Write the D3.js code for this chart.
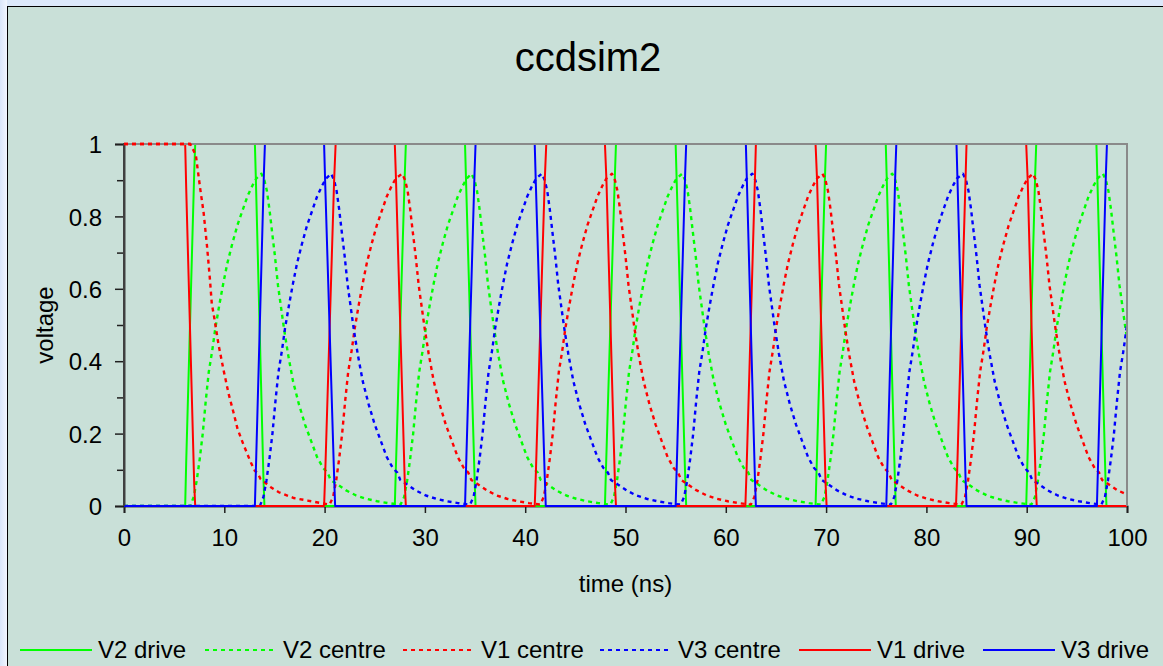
<!DOCTYPE html>
<html>
<head>
<meta charset="utf-8">
<script src="https://cdn.jsdelivr.net/npm/d3@7"></script>
<style>
  html, body { margin: 0; padding: 0; background: #dfeafb; }
  svg { display: block; }
  text { font-family: "Liberation Sans", Arial, sans-serif; fill: #000; }
</style>
</head>
<body>
<svg id="chart" width="1163" height="666"></svg>
<script>
// ---------------- DATA ----------------
const chartTitle = "ccdsim2";
const xLabel = "time (ns)";
const yLabel = "voltage";
const timeTicks = [0, 10, 20, 30, 40, 50, 60, 70, 80, 90, 100];
const voltTicks = [0, 0.2, 0.4, 0.6, 0.8, 1];
const voltMinorTicks = [0.1, 0.3, 0.5, 0.7, 0.9];
const seriesNames = ["V2 drive", "V2 centre", "V1 centre", "V3 centre", "V1 drive", "V3 drive"];

// [time ns, voltage]
const v2Drive = [
  [0,0],[6.1,0],[6.2,0.12],[7.0,0.92],[7.1,1],
  [13.05,1],[13.15,0.9],[13.9,0.08],[14.0,0],
  [27.0,0],[27.1,0.1],[28.0,0.92],[28.1,1],
  [34.0,1],[34.1,0.9],[34.95,0.08],[35.05,0],
  [47.95,0],[48.05,0.1],[48.95,0.92],[49.05,1],
  [55.0,1],[55.1,0.9],[55.95,0.08],[56.05,0],
  [68.95,0],[69.05,0.1],[69.9,0.92],[70.0,1],
  [75.95,1],[76.05,0.9],[76.85,0.08],[76.95,0],
  [89.95,0],[90.05,0.1],[90.85,0.92],[90.95,1],
  [96.95,1],[97.05,0.9],[97.85,0.08],[97.95,0],
  [100,0]
];
const v1Drive = [
  [0,1],[6.1,1],[6.2,0.88],[7.0,0.06],[7.1,0],
  [19.95,0],[20.05,0.08],[20.95,0.9],[21.1,1],
  [27.0,1],[27.12,0.9],[28.0,0.06],[28.1,0],
  [40.95,0],[41.05,0.08],[41.95,0.9],[42.1,1],
  [47.95,1],[48.1,0.9],[48.95,0.06],[49.05,0],
  [61.95,0],[62.05,0.08],[62.9,0.9],[63.0,1],
  [68.95,1],[69.1,0.9],[69.95,0.06],[70.05,0],
  [82.95,0],[83.05,0.08],[83.9,0.9],[84.0,1],
  [89.95,1],[90.1,0.9],[90.9,0.06],[91.0,0],
  [100,0]
];
const v3Drive = [
  [0,0],[13.05,0],[13.15,0.1],[13.95,0.92],[14.05,1],
  [19.95,1],[20.05,0.9],[20.95,0.08],[21.05,0],
  [34.0,0],[34.1,0.1],[34.95,0.92],[35.05,1],
  [40.95,1],[41.05,0.9],[41.95,0.08],[42.05,0],
  [55.0,0],[55.1,0.1],[55.95,0.92],[56.05,1],
  [62.0,1],[62.1,0.9],[62.9,0.08],[63.0,0],
  [76.0,0],[76.1,0.1],[76.9,0.92],[77.0,1],
  [83.0,1],[83.1,0.9],[83.9,0.08],[84.0,0],
  [97.0,0],[97.1,0.1],[97.9,0.92],[98.0,1],
  [100,1]
];
const v2Centre = [
  [0,0],[6.6,0],
  [6.95,0.025],[7.25,0.07],[7.55,0.13],[7.85,0.2],[8.15,0.29],[8.45,0.37],[8.8,0.43],[9.1,0.49],[9.5,0.555],[9.9,0.615],[10.3,0.67],[10.8,0.725],[11.3,0.775],[11.8,0.815],[12.3,0.855],[12.8,0.885],[13.2,0.905],
  [13.7,0.918],
  [14.0,0.9],[14.25,0.87],[14.5,0.82],[14.75,0.76],[15.05,0.69],[15.35,0.61],[15.65,0.55],[15.95,0.49],[16.35,0.42],[16.85,0.345],[17.45,0.28],[18.05,0.225],[18.65,0.18],[19.25,0.135],[19.85,0.105],[20.3,0.092],[20.6,0.072],[21.25,0.06],[22.15,0.043],[23.15,0.029],[24.15,0.02],[25.25,0.013],[26.35,0.008],[27.45,0.004],
  [27.58,0.004],[27.93,0.025],[28.23,0.07],[28.53,0.13],[28.83,0.2],[29.13,0.29],[29.43,0.37],[29.78,0.43],[30.08,0.49],[30.48,0.555],[30.88,0.615],[31.28,0.67],[31.78,0.725],[32.28,0.775],[32.78,0.815],[33.28,0.855],[33.78,0.885],[34.18,0.905],
  [34.65,0.918],
  [34.95,0.9],[35.2,0.87],[35.45,0.82],[35.7,0.76],[36.0,0.69],[36.3,0.61],[36.6,0.55],[36.9,0.49],[37.3,0.42],[37.8,0.345],[38.4,0.28],[39.0,0.225],[39.6,0.18],[40.2,0.135],[40.8,0.105],[41.25,0.092],[41.55,0.072],[42.2,0.06],[43.1,0.043],[44.1,0.029],[45.1,0.02],[46.2,0.013],[47.3,0.008],[48.4,0.004],
  [48.5,0.004],[48.85,0.025],[49.15,0.07],[49.45,0.13],[49.75,0.2],[50.05,0.29],[50.35,0.37],[50.7,0.43],[51.0,0.49],[51.4,0.555],[51.8,0.615],[52.2,0.67],[52.7,0.725],[53.2,0.775],[53.7,0.815],[54.2,0.855],[54.7,0.885],[55.1,0.905],
  [55.65,0.918],
  [55.95,0.9],[56.2,0.87],[56.45,0.82],[56.7,0.76],[57.0,0.69],[57.3,0.61],[57.6,0.55],[57.9,0.49],[58.3,0.42],[58.8,0.345],[59.4,0.28],[60.0,0.225],[60.6,0.18],[61.2,0.135],[61.8,0.105],[62.25,0.092],[62.55,0.072],[63.2,0.06],[64.1,0.043],[65.1,0.029],[66.1,0.02],[67.2,0.013],[68.3,0.008],[69.4,0.004],
  [69.49,0.004],[69.84,0.025],[70.14,0.07],[70.44,0.13],[70.74,0.2],[71.04,0.29],[71.34,0.37],[71.69,0.43],[71.99,0.49],[72.39,0.555],[72.79,0.615],[73.19,0.67],[73.69,0.725],[74.19,0.775],[74.69,0.815],[75.19,0.855],[75.69,0.885],[76.09,0.905],
  [76.6,0.918],
  [76.9,0.9],[77.15,0.87],[77.4,0.82],[77.65,0.76],[77.95,0.69],[78.25,0.61],[78.55,0.55],[78.85,0.49],[79.25,0.42],[79.75,0.345],[80.35,0.28],[80.95,0.225],[81.55,0.18],[82.15,0.135],[82.75,0.105],[83.2,0.092],[83.5,0.072],[84.15,0.06],[85.05,0.043],[86.05,0.029],[87.05,0.02],[88.15,0.013],[89.25,0.008],[90.35,0.004],
  [90.47,0.004],[90.82,0.025],[91.12,0.07],[91.42,0.13],[91.72,0.2],[92.02,0.29],[92.32,0.37],[92.67,0.43],[92.97,0.49],[93.37,0.555],[93.77,0.615],[94.17,0.67],[94.67,0.725],[95.17,0.775],[95.67,0.815],[96.17,0.855],[96.67,0.885],[97.07,0.905],
  [97.6,0.918],
  [97.9,0.9],[98.15,0.87],[98.4,0.82],[98.65,0.76],[98.95,0.69],[99.25,0.61],[99.55,0.55],[99.85,0.49],[100,0.465]
];
const v3Centre = [
  [0,0],[13.55,0],
  [13.9,0.025],[14.2,0.07],[14.5,0.13],[14.8,0.2],[15.1,0.29],[15.4,0.37],[15.75,0.43],[16.05,0.49],[16.45,0.555],[16.85,0.615],[17.25,0.67],[17.75,0.725],[18.25,0.775],[18.75,0.815],[19.25,0.855],[19.75,0.885],[20.15,0.905],
  [20.65,0.918],
  [20.95,0.9],[21.2,0.87],[21.45,0.82],[21.7,0.76],[22.0,0.69],[22.3,0.61],[22.6,0.55],[22.9,0.49],[23.3,0.42],[23.8,0.345],[24.4,0.28],[25.0,0.225],[25.6,0.18],[26.2,0.135],[26.8,0.105],[27.25,0.092],[27.55,0.072],[28.2,0.06],[29.1,0.043],[30.1,0.029],[31.1,0.02],[32.2,0.013],[33.3,0.008],[34.4,0.004],
  [34.5,0.004],[34.85,0.025],[35.15,0.07],[35.45,0.13],[35.75,0.2],[36.05,0.29],[36.35,0.37],[36.7,0.43],[37.0,0.49],[37.4,0.555],[37.8,0.615],[38.2,0.67],[38.7,0.725],[39.2,0.775],[39.7,0.815],[40.2,0.855],[40.7,0.885],[41.1,0.905],
  [41.65,0.918],
  [41.95,0.9],[42.2,0.87],[42.45,0.82],[42.7,0.76],[43.0,0.69],[43.3,0.61],[43.6,0.55],[43.9,0.49],[44.3,0.42],[44.8,0.345],[45.4,0.28],[46.0,0.225],[46.6,0.18],[47.2,0.135],[47.8,0.105],[48.25,0.092],[48.55,0.072],[49.2,0.06],[50.1,0.043],[51.1,0.029],[52.1,0.02],[53.2,0.013],[54.3,0.008],[55.4,0.004],
  [55.5,0.004],[55.85,0.025],[56.15,0.07],[56.45,0.13],[56.75,0.2],[57.05,0.29],[57.35,0.37],[57.7,0.43],[58.0,0.49],[58.4,0.555],[58.8,0.615],[59.2,0.67],[59.7,0.725],[60.2,0.775],[60.7,0.815],[61.2,0.855],[61.7,0.885],[62.1,0.905],
  [62.65,0.918],
  [62.95,0.9],[63.2,0.87],[63.45,0.82],[63.7,0.76],[64.0,0.69],[64.3,0.61],[64.6,0.55],[64.9,0.49],[65.3,0.42],[65.8,0.345],[66.4,0.28],[67.0,0.225],[67.6,0.18],[68.2,0.135],[68.8,0.105],[69.25,0.092],[69.55,0.072],[70.2,0.06],[71.1,0.043],[72.1,0.029],[73.1,0.02],[74.2,0.013],[75.3,0.008],[76.4,0.004],
  [76.45,0.004],[76.8,0.025],[77.1,0.07],[77.4,0.13],[77.7,0.2],[78.0,0.29],[78.3,0.37],[78.65,0.43],[78.95,0.49],[79.35,0.555],[79.75,0.615],[80.15,0.67],[80.65,0.725],[81.15,0.775],[81.65,0.815],[82.15,0.855],[82.65,0.885],[83.05,0.905],
  [83.65,0.918],
  [83.95,0.9],[84.2,0.87],[84.45,0.82],[84.7,0.76],[85.0,0.69],[85.3,0.61],[85.6,0.55],[85.9,0.49],[86.3,0.42],[86.8,0.345],[87.4,0.28],[88.0,0.225],[88.6,0.18],[89.2,0.135],[89.8,0.105],[90.25,0.092],[90.55,0.072],[91.2,0.06],[92.1,0.043],[93.1,0.029],[94.1,0.02],[95.2,0.013],[96.3,0.008],[97.4,0.004],
  [97.45,0.004],[97.8,0.025],[98.1,0.07],[98.4,0.13],[98.7,0.2],[99.0,0.29],[99.3,0.37],[99.65,0.43],[99.95,0.49],[100,0.51]
];
const v1Centre = [
  [0,1],[6.6,1],[6.8,0.99],[7.17,0.968],[7.6,0.876],[7.94,0.81],[8.27,0.72],[8.57,0.625],[8.75,0.56],[9.0,0.52],[9.43,0.445],[9.93,0.375],[10.43,0.31],[10.93,0.257],[11.32,0.213],[11.92,0.169],[12.65,0.12],[13.05,0.097],[13.35,0.09],[13.6,0.075],[14.64,0.052],[15.44,0.038],[16.93,0.022],[18.3,0.015],[19.62,0.008],[20.5,0.004],
  [20.85,0.025],[21.15,0.07],[21.45,0.13],[21.75,0.2],[22.05,0.29],[22.35,0.37],[22.7,0.43],[23.0,0.49],[23.4,0.555],[23.8,0.615],[24.2,0.67],[24.7,0.725],[25.2,0.775],[25.7,0.815],[26.2,0.855],[26.7,0.885],[27.1,0.905],
  [27.73,0.918],
  [28.03,0.9],[28.28,0.87],[28.53,0.82],[28.78,0.76],[29.08,0.69],[29.38,0.61],[29.68,0.55],[29.98,0.49],[30.38,0.42],[30.88,0.345],[31.48,0.28],[32.08,0.225],[32.68,0.18],[33.28,0.135],[33.88,0.105],[34.33,0.092],[34.63,0.072],[35.28,0.06],[36.18,0.043],[37.18,0.029],[38.18,0.02],[39.28,0.013],[40.38,0.008],[41.45,0.004],
  [41.5,0.004],[41.85,0.025],[42.15,0.07],[42.45,0.13],[42.75,0.2],[43.05,0.29],[43.35,0.37],[43.7,0.43],[44.0,0.49],[44.4,0.555],[44.8,0.615],[45.2,0.67],[45.7,0.725],[46.2,0.775],[46.7,0.815],[47.2,0.855],[47.7,0.885],[48.1,0.905],
  [48.65,0.918],
  [48.95,0.9],[49.2,0.87],[49.45,0.82],[49.7,0.76],[50.0,0.69],[50.3,0.61],[50.6,0.55],[50.9,0.49],[51.3,0.42],[51.8,0.345],[52.4,0.28],[53.0,0.225],[53.6,0.18],[54.2,0.135],[54.8,0.105],[55.25,0.092],[55.55,0.072],[56.2,0.06],[57.1,0.043],[58.1,0.029],[59.1,0.02],[60.2,0.013],[61.3,0.008],[62.4,0.004],
  [62.5,0.004],[62.85,0.025],[63.15,0.07],[63.45,0.13],[63.75,0.2],[64.05,0.29],[64.35,0.37],[64.7,0.43],[65.0,0.49],[65.4,0.555],[65.8,0.615],[66.2,0.67],[66.7,0.725],[67.2,0.775],[67.7,0.815],[68.2,0.855],[68.7,0.885],[69.1,0.905],
  [69.64,0.918],
  [69.94,0.9],[70.19,0.87],[70.44,0.82],[70.69,0.76],[70.99,0.69],[71.29,0.61],[71.59,0.55],[71.89,0.49],[72.29,0.42],[72.79,0.345],[73.39,0.28],[73.99,0.225],[74.59,0.18],[75.19,0.135],[75.79,0.105],[76.24,0.092],[76.54,0.072],[77.19,0.06],[78.09,0.043],[79.09,0.029],[80.09,0.02],[81.19,0.013],[82.29,0.008],[83.39,0.004],
  [83.5,0.004],[83.85,0.025],[84.15,0.07],[84.45,0.13],[84.75,0.2],[85.05,0.29],[85.35,0.37],[85.7,0.43],[86.0,0.49],[86.4,0.555],[86.8,0.615],[87.2,0.67],[87.7,0.725],[88.2,0.775],[88.7,0.815],[89.2,0.855],[89.7,0.885],[90.1,0.905],
  [90.62,0.918],
  [90.92,0.9],[91.17,0.87],[91.42,0.82],[91.67,0.76],[91.97,0.69],[92.27,0.61],[92.57,0.55],[92.87,0.49],[93.27,0.42],[93.77,0.345],[94.37,0.28],[94.97,0.225],[95.57,0.18],[96.17,0.135],[96.77,0.105],[97.22,0.092],[97.52,0.072],[98.17,0.06],[99.07,0.043],[100,0.032]
];

// ---------------- DRAW ----------------
const svg = d3.select("#chart");
const W = 1163, H = 666;
const plot = { left: 124, right: 1127, top: 144, bottom: 506 };

const defs = svg.append("defs");
const g1 = defs.append("linearGradient").attr("id", "edge").attr("x1", 0).attr("x2", 1).attr("y1", 0).attr("y2", 0);
g1.append("stop").attr("offset", 0).attr("stop-color", "#d9e6fa");
g1.append("stop").attr("offset", 1).attr("stop-color", "#f1f6fe");
defs.append("clipPath").attr("id", "clip").append("rect")
  .attr("x", plot.left).attr("y", plot.top - 2)
  .attr("width", plot.right - plot.left).attr("height", plot.bottom - plot.top + 3);
defs.append("clipPath").attr("id", "clipTop").append("rect")
  .attr("x", plot.left).attr("y", plot.top - 2)
  .attr("width", plot.right - plot.left).attr("height", 4);

svg.append("rect").attr("width", W).attr("height", H).attr("fill", "#dce9fb");
svg.append("rect").attr("x", 0).attr("y", 0).attr("width", 7).attr("height", H).attr("fill", "url(#edge)");
svg.append("rect").attr("x", 7.5).attr("y", 6.5).attr("width", W + 20).attr("height", H + 20)
  .attr("fill", "#c9e0d8").attr("stroke", "#000").attr("stroke-width", 1);

const x = d3.scaleLinear().domain([0, 100]).range([plot.left, plot.right]);
const y = d3.scaleLinear().domain([0, 1]).range([plot.bottom, plot.top]);

// title
svg.append("text").attr("x", 588).attr("y", 71).attr("text-anchor", "middle")
  .style("font-size", "40px").text(chartTitle);

// axes
const xAxis = d3.axisBottom(x).tickValues(timeTicks).tickSize(7).tickPadding(16).tickFormat(d3.format("d"));
const gx = svg.append("g").attr("transform", `translate(0,${plot.bottom})`).call(xAxis);
const yAxis = d3.axisLeft(y).tickValues(voltTicks).tickSize(9).tickPadding(13).tickFormat(d => d3.format("")(+d.toFixed(1)));
const gy = svg.append("g").attr("transform", `translate(${plot.left},0)`).call(yAxis);
const yMinor = d3.axisLeft(y).tickValues(voltMinorTicks).tickSize(7).tickFormat("");
const gym = svg.append("g").attr("transform", `translate(${plot.left},0)`).call(yMinor);
[gx, gy, gym].forEach(g => {
  g.select(".domain").attr("stroke", "#404040").attr("stroke-width", 2);
  g.selectAll(".tick line").attr("stroke", "#202020").attr("stroke-width", 1.5);
  g.selectAll(".tick text").style("font-size", "24px").style("font-family", "'Liberation Sans', Arial, sans-serif").attr("fill", "#000");
});
gym.select(".domain").remove();
gy.selectAll(".tick text").attr("dy", "0.36em");

// axis titles
svg.append("text").attr("x", (plot.left + plot.right) / 2).attr("y", 592).attr("text-anchor", "middle")
  .style("font-size", "24px").text(xLabel);
svg.append("text").attr("transform", `translate(53,${(plot.top + plot.bottom) / 2}) rotate(-90)`)
  .attr("text-anchor", "middle").style("font-size", "24px").text(yLabel);

// series
const series = [
  { name: seriesNames[0], data: v2Drive, color: "#00ff00", dash: null, w: 2 },
  { name: seriesNames[1], data: v2Centre, color: "#00ff00", dash: "4,4", w: 2.4 },
  { name: seriesNames[2], data: v1Centre, color: "#ff0000", dash: "4,4", w: 2.4 },
  { name: seriesNames[3], data: v3Centre, color: "#0000ff", dash: "4,4", w: 2.4 },
  { name: seriesNames[4], data: v1Drive, color: "#ff0000", dash: null, w: 2 },
  { name: seriesNames[5], data: v3Drive, color: "#0000ff", dash: null, w: 2 }
];
const line = d3.line().x(d => x(d[0])).y(d => y(d[1]));
const gLines = svg.append("g").attr("clip-path", "url(#clip)");
series.forEach(s => {
  gLines.append("path").datum(s.data).attr("d", line)
    .attr("fill", "none").attr("stroke", s.color).attr("stroke-width", s.w)
    .attr("stroke-dasharray", s.dash).attr("stroke-linejoin", "round");
});

// plot frame (top/right grey) drawn over the traces
svg.append("path")
  .attr("d", `M${plot.left},${plot.top}H${plot.right}V${plot.bottom}`)
  .attr("fill", "none").attr("stroke", "#8a8a8a").attr("stroke-width", 2);
svg.append("line").attr("x1", plot.left).attr("x2", plot.left).attr("y1", plot.top - 1).attr("y2", plot.bottom)
  .attr("stroke", "#404040").attr("stroke-width", 2);

// dotted V1 centre stays visible on the top border
svg.append("g").attr("clip-path", "url(#clipTop)")
  .append("path").datum(v1Centre).attr("d", line)
  .attr("fill", "none").attr("stroke", "#ff0000").attr("stroke-width", 2.4).attr("stroke-dasharray", "4,4");

// legend
const legendX = [20, 205, 403, 600, 799, 983];
const legendY = 650;
series.forEach((s, i) => {
  const lg = svg.append("g").attr("transform", `translate(${legendX[i]},${legendY})`);
  lg.append("line").attr("x1", 0).attr("x2", 72).attr("y1", 0).attr("y2", 0)
    .attr("stroke", s.color).attr("stroke-width", 2).attr("stroke-dasharray", s.dash);
  lg.append("text").attr("x", 78).attr("y", 8).style("font-size", "24px").text(s.name);
});
</script>
</body>
</html>
